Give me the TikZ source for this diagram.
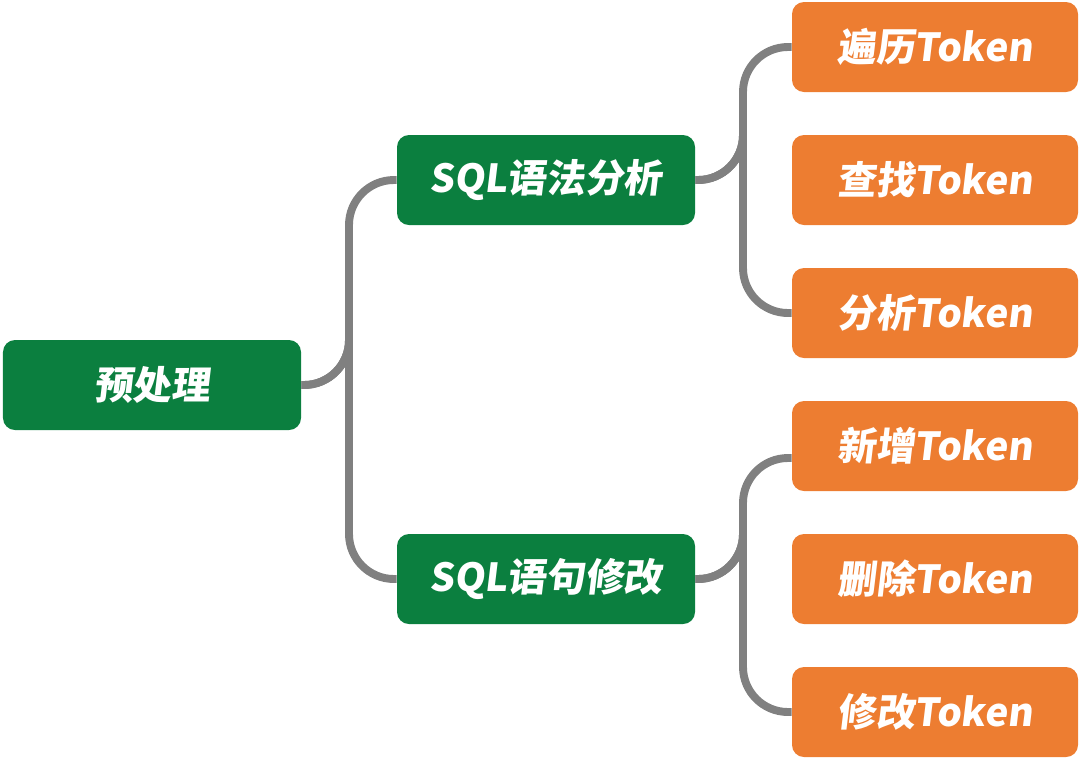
\documentclass[tikz,border=0pt]{standalone}
\usepackage{fontspec}
\newfontfamily\cjk[FakeSlant=0.12]{Noto Sans CJK SC}
\usetikzlibrary{positioning}
\definecolor{mapgreen}{HTML}{0B7F3F}
\definecolor{maporange}{HTML}{ED7D31}
\definecolor{mapgray}{HTML}{808080}
\tikzset{
  topic/.style={fill=mapgreen,text=white,rounded corners=0.24cm,minimum width=5.96cm,minimum height=1.8cm,font=\cjk\bfseries\fontsize{22}{26}\selectfont},
  leaf/.style={fill=maporange,text=white,rounded corners=0.24cm,minimum width=5.72cm,minimum height=1.8cm,font=\cjk\bfseries\fontsize{22}{26}\selectfont},
  link/.style={draw=mapgray,line width=4.5pt,rounded corners=0.9cm}
}
\begin{document}
\begin{tikzpicture}
\useasboundingbox (0,0) rectangle (21.6,-15.26);
\node[topic] (pre) at (3.04,-7.7) {预处理};
\node[topic] (parse) at (10.92,-3.6) {SQL语法分析};
\node[topic] (modify) at (10.92,-11.58) {SQL语句修改};
\node[leaf] (walk) at (18.7,-0.94) {遍历Token};
\node[leaf] (find) at (18.7,-3.6) {查找Token};
\node[leaf] (analyze) at (18.7,-6.26) {分析Token};
\node[leaf] (add) at (18.7,-8.92) {新增Token};
\node[leaf] (del) at (18.7,-11.58) {删除Token};
\node[leaf] (edit) at (18.7,-14.24) {修改Token};
% branch points
\coordinate (m0) at (6.98,-7.7);
\coordinate (m1) at (14.86,-3.6);
\coordinate (m2) at (14.86,-11.58);
\draw[link] (pre.east) -| (m0) |- (parse.west);
\draw[link] (pre.east) -| (m0) |- (modify.west);
\draw[link] (parse.east) -| (m1) |- (walk.west);
\draw[link] (parse.east) -| (m1) |- (analyze.west);
\draw[link] (modify.east) -| (m2) |- ([yshift=-0.24cm]add.west);
\draw[link] (modify.east) -| (m2) |- (edit.west);
\end{tikzpicture}
\end{document}
